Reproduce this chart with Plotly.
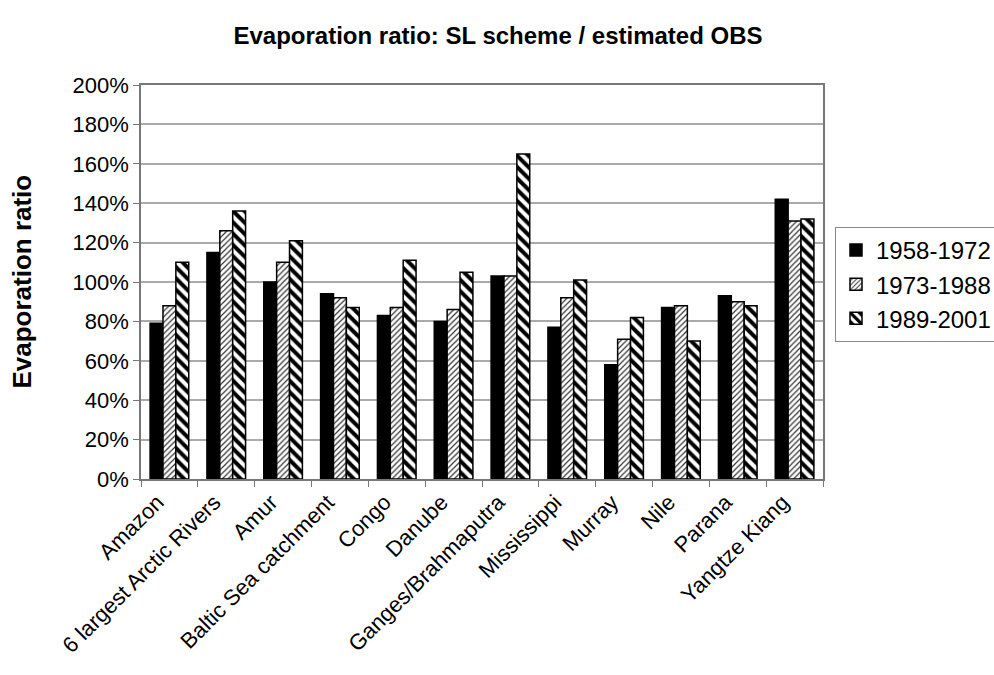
import plotly.graph_objects as go

categories = ["Amazon", "6 largest Arctic Rivers", "Amur", "Baltic Sea catchment",
              "Congo", "Danube", "Ganges/Brahmaputra", "Mississippi", "Murray",
              "Nile", "Parana", "Yangtze Kiang"]
series_names = ["1958-1972", "1973-1988", "1989-2001"]
vals_1958_1972 = [79, 115, 100, 94, 83, 80, 103, 77, 58, 87, 93, 142]
vals_1973_1988 = [88, 126, 110, 92, 87, 86, 103, 92, 71, 88, 90, 131]
vals_1989_2001 = [110, 136, 121, 87, 111, 105, 165, 101, 82, 70, 88, 132]
y_ticks = [0, 20, 40, 60, 80, 100, 120, 140, 160, 180, 200]
y_tick_labels = [f"{v}%" for v in y_ticks]

FONT = "Liberation Sans, Arial, sans-serif"

fig = go.Figure()
fig.add_trace(go.Bar(
    x=categories, y=vals_1958_1972, name=series_names[0],
    marker=dict(color="black", line=dict(color="black", width=1.5)),
))
fig.add_trace(go.Bar(
    x=categories, y=vals_1973_1988, name=series_names[1],
    marker=dict(color="white", line=dict(color="black", width=1.5),
                pattern=dict(shape="/", fgcolor="#333333", bgcolor="white",
                             size=4, solidity=0.3, fgopacity=1, fillmode="replace")),
))
fig.add_trace(go.Bar(
    x=categories, y=vals_1989_2001, name=series_names[2],
    marker=dict(color="white", line=dict(color="black", width=1.5),
                pattern=dict(shape="\\", fgcolor="black", bgcolor="white",
                             size=8, solidity=0.5, fgopacity=1, fillmode="replace")),
))

fig.update_layout(
    width=994, height=675,
    margin=dict(l=141, r=171, t=85, b=196, autoexpand=False),
    paper_bgcolor="white", plot_bgcolor="white",
    barmode="group", bargap=0.32, bargroupgap=0,
    font=dict(family=FONT, color="black", size=22),
    title=dict(text="<b>Evaporation ratio: SL scheme / estimated OBS</b>",
               x=0.501, xanchor="center", y=0.948, yanchor="middle",
               font=dict(size=24, family=FONT, color="black")),
    legend=dict(x=1.0176, xanchor="left", y=0.64, yanchor="top",
                bordercolor="#888888", borderwidth=1, bgcolor="white",
                font=dict(size=24, family=FONT, color="black")),
    showlegend=True,
)
fig.update_xaxes(
    type="category", tickangle=-45, tickson="boundaries",
    ticks="outside", ticklen=6, tickcolor="#777777",
    showline=True, linecolor="#777777", linewidth=1.5, mirror=True,
    tickfont=dict(size=22, family=FONT, color="black"),
    ticklabelshift=-12,
    showgrid=False, automargin=False,
)
fig.update_yaxes(
    range=[0, 200], tickmode="array", tickvals=y_ticks, ticktext=y_tick_labels,
    ticks="outside", ticklen=6, tickcolor="#777777",
    showline=True, linecolor="#777777", linewidth=1.5, mirror=True,
    showgrid=True, gridcolor="#aaaaaa", gridwidth=1.5,
    tickfont=dict(size=22, family=FONT, color="black"),
    zeroline=False, automargin=False,
)
fig.add_annotation(
    text="<b>Evaporation ratio</b>", textangle=-90,
    xref="paper", yref="paper", x=-0.1745, y=0.501,
    xanchor="center", yanchor="middle", showarrow=False,
    font=dict(size=26, family=FONT, color="black"),
)

fig.write_html("out.html",
               config={"displayModeBar": False},
               post_script="document.body.style.margin='0';document.body.style.padding='0';")
